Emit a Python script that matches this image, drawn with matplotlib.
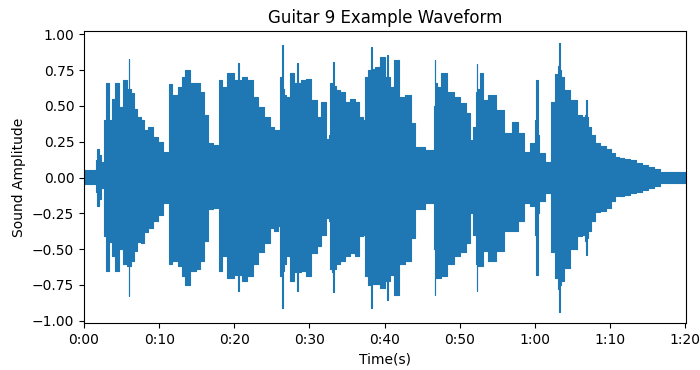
import matplotlib
matplotlib.use("Agg")
import matplotlib.pyplot as plt
from matplotlib.ticker import FuncFormatter, MultipleLocator

# envelope of the waveform
# time in seconds, upper / lower amplitude
env_time = [
    0.0, 1.5, 1.6, 1.77, 2.1, 2.4, 2.65, 2.75, 3.2, 3.5, 3.9, 4.3, 4.9, 5.5,
    5.9, 6.0, 6.1, 6.4, 6.9, 7.3, 7.8, 8.2, 8.9, 9.5, 10.2, 10.9, 11.2, 11.3,
    12.0, 12.9, 13.3, 13.7, 14.6, 15.1, 15.7, 16.2, 16.4, 16.5, 17.9, 18.0,
    18.6, 19.5, 20.5, 20.6, 20.7, 21.3, 22.2, 22.8, 23.5, 24.4, 25.0, 25.5,
    26.0, 26.1, 26.3, 26.4, 26.5, 26.7, 27.0, 27.7, 28.3, 28.4, 28.5, 29.3,
    29.9, 30.6, 31.3, 31.9, 32.4, 32.7, 32.8, 33.1, 33.2, 33.3, 33.7, 34.4,
    35.0, 35.7, 36.4, 36.9, 37.3, 37.5, 38.2, 38.3, 38.4, 39.0, 39.7, 40.3,
    40.4, 40.5, 41.0, 41.6, 42.3, 43.2, 43.7, 44.3, 46.5, 46.6, 46.7, 46.8,
    47.2, 47.9, 48.8, 49.6, 50.5, 51.2, 51.6, 52.0, 52.2, 52.3, 52.4, 53.0,
    53.2, 54.3, 55.4, 56.5, 57.4, 58.1, 59.0, 59.8, 60.1, 60.3, 60.5, 60.7,
    62.1, 62.3, 63.0, 63.2, 63.3, 63.4, 63.6, 64.1, 65.2, 65.9, 66.5, 66.8,
    66.85, 66.9, 67.2, 67.7, 68.3, 69.0, 69.8, 70.4, 70.9, 71.5, 72.2, 73.1,
    73.8, 74.6, 75.4, 76.2, 77.1, 78.5, 80.1,
]
env_upper = [
    0.05, 0.05, 0.12, 0.20, 0.16, 0.11, 0.10, 0.40, 0.66, 0.40, 0.55, 0.66, 0.49, 0.68,
    0.62, 0.83, 0.62, 0.59, 0.48, 0.42, 0.40, 0.33, 0.355, 0.285, 0.25, 0.18, 0.18, 0.65,
    0.58, 0.63, 0.70, 0.75, 0.66, 0.66, 0.60, 0.44, 0.44, 0.24, 0.23, 0.68,
    0.63, 0.73, 0.68, 0.80, 0.68, 0.70, 0.68, 0.56, 0.49, 0.42, 0.355, 0.33,
    0.33, 0.70, 0.68, 0.925, 0.62, 0.58, 0.56, 0.73, 0.66, 0.80, 0.66, 0.68,
    0.69, 0.54, 0.42, 0.53, 0.27, 0.30, 0.66, 0.66, 0.81, 0.64, 0.61, 0.60,
    0.53, 0.55, 0.53, 0.42, 0.40, 0.70, 0.75, 0.91, 0.76, 0.77, 0.84, 0.70,
    0.855, 0.70, 0.63, 0.82, 0.56, 0.58, 0.38, 0.215, 0.19, 0.50, 0.82, 0.66,
    0.63, 0.73, 0.60, 0.56, 0.52, 0.45, 0.26, 0.35, 0.60, 0.79, 0.62, 0.73,
    0.54, 0.58, 0.47, 0.31, 0.39, 0.31, 0.18, 0.24, 0.40, 0.68, 0.30, 0.17,
    0.11, 0.53, 0.72, 0.78, 0.94, 0.75, 0.70, 0.61, 0.54, 0.44, 0.42, 0.44,
    0.54, 0.42, 0.355, 0.30, 0.24, 0.22, 0.20, 0.17, 0.145, 0.14, 0.13, 0.12,
    0.10, 0.09, 0.075, 0.06, 0.04, 0.04, 0.04,
]
env_lower = [
    -0.045, -0.045, -0.10, -0.20, -0.15, -0.07, -0.06, -0.41, -0.65, -0.45, -0.55, -0.65, -0.50, -0.60,
    -0.62, -0.83, -0.62, -0.58, -0.51, -0.45, -0.46, -0.38, -0.35, -0.30, -0.26, -0.18, -0.18, -0.60,
    -0.58, -0.62, -0.69, -0.75, -0.65, -0.64, -0.58, -0.44, -0.44, -0.22, -0.21, -0.65,
    -0.55, -0.70, -0.68, -0.79, -0.68, -0.72, -0.69, -0.60, -0.52, -0.46, -0.35, -0.37,
    -0.34, -0.69, -0.68, -0.91, -0.65, -0.60, -0.55, -0.72, -0.66, -0.79, -0.66, -0.65,
    -0.69, -0.53, -0.48, -0.40, -0.28, -0.30, -0.64, -0.66, -0.80, -0.64, -0.60, -0.58,
    -0.55, -0.53, -0.55, -0.41, -0.40, -0.69, -0.75, -0.91, -0.74, -0.74, -0.77, -0.72,
    -0.855, -0.72, -0.68, -0.82, -0.60, -0.58, -0.42, -0.22, -0.18, -0.50, -0.82, -0.70,
    -0.70, -0.69, -0.60, -0.55, -0.52, -0.46, -0.25, -0.40, -0.60, -0.79, -0.62, -0.62,
    -0.51, -0.58, -0.51, -0.37, -0.37, -0.30, -0.18, -0.20, -0.40, -0.68, -0.25, -0.16,
    -0.11, -0.52, -0.70, -0.78, -0.94, -0.75, -0.72, -0.63, -0.50, -0.41, -0.40, -0.44,
    -0.54, -0.42, -0.37, -0.30, -0.24, -0.23, -0.21, -0.16, -0.13, -0.13, -0.12, -0.11,
    -0.10, -0.085, -0.075, -0.06, -0.04, -0.04, -0.04,
]

# ----------------------------------------------------
# Plot
# ----------------------------------------------------

fig = plt.figure(figsize=(7, 3.7), dpi=100)
ax = fig.add_axes([0.12, 0.126, 0.86, 0.79])

# step drawing gives the blocky, vertical-edged look of a dense waveform
ax.fill_between(env_time, env_lower, env_upper, step="mid", color="#1f77b4",
                linewidth=0.8, edgecolor="#1f77b4")

ax.set_xlim(0, 80.1)
ax.set_ylim(-1.018, 1.023)

ax.xaxis.set_major_locator(MultipleLocator(10))
ax.xaxis.set_major_formatter(
    FuncFormatter(lambda s, pos: "%d:%02d" % (int(s) // 60, int(s) % 60))
)
ax.yaxis.set_major_locator(MultipleLocator(0.25))
ax.yaxis.set_major_formatter(FuncFormatter(lambda v, pos: ("%.2f" % v).replace("-", "\u2212")))

ax.set_xlabel("Time(s)")
ax.set_ylabel("Sound Amplitude")
ax.set_title("Guitar 9 Example Waveform")

fig.savefig("out.png", dpi=100)
